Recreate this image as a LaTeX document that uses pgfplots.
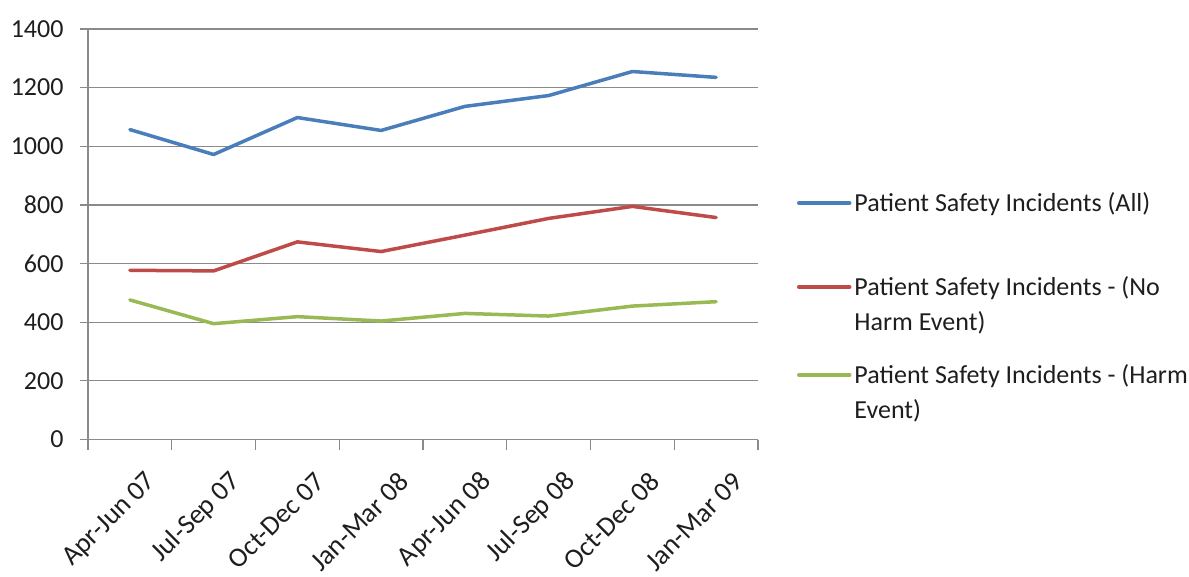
\documentclass[border=0pt]{standalone}
\usepackage{fontspec}
\setmainfont{Carlito}
\usepackage{pgfplots}
\pgfplotsset{compat=1.18}

\definecolor{seriesblue}{HTML}{4A7EBB}
\definecolor{seriesred}{HTML}{BE4B48}
\definecolor{seriesgreen}{HTML}{98B954}
\definecolor{axisgray}{HTML}{8A8A8A}
\definecolor{labeltext}{HTML}{1E1E1E}

\begin{document}
\begin{tikzpicture}[font=\fontsize{26bp}{35bp}\selectfont]
\begin{axis}[
  scale only axis,
  width=670bp, height=410.5bp,
  xmin=0.5, xmax=8.5,
  ymin=0, ymax=1400,
  ytick={0,200,...,1400},
  xtick={1,2,3,4,5,6,7,8},
  xticklabels={Apr-Jun 07,Jul-Sep 07,Oct-Dec 07,Jan-Mar 08,Apr-Jun 08,Jul-Sep 08,Oct-Dec 08,Jan-Mar 09},
  xticklabel style={rotate=45, anchor=east, xshift=-2bp, yshift=-37bp,
    font=\fontsize{27.5bp}{33bp}\selectfont},
  minor xtick={0.5,1.5,...,8.5},
  major x tick style={opacity=0},
  axis x line*=bottom, axis y line*=left,
  axis line style={axisgray, line width=1.2bp},
  ymajorgrids,
  grid style={axisgray, line width=1.2bp},
  tick align=outside,
  major tick length=8bp,
  minor tick length=10bp,
  tick style={axisgray, line width=1.2bp},
  ticklabel style={text=labeltext},
  yticklabel style={xshift=-13bp},
  /pgf/number format/assume math mode=true,
  /pgf/number format/1000 sep={},
  legend image code/.code={\draw[#1] (0bp,9bp) -- (51bp,9bp);},
  legend style={at={(1.0582,0.6139)}, anchor=north west,
    draw=none, fill=none, inner sep=0pt, outer sep=0pt,
    cells={anchor=base west},
    nodes={inner sep=0pt, text depth={}, text=labeltext},
    row sep=18bp,
    /tikz/every odd column/.append style={column sep=3bp}},
  every axis plot/.append style={line width=3.5bp, line join=round, line cap=round},
]
\addplot[seriesblue] coordinates {
  (1,1057) (2,972) (3,1098) (4,1054) (5,1136) (6,1173) (7,1255) (8,1235)};
\addlegendentry{\begin{tabular}[t]{@{}l@{}}Patient Safety Incidents (All)\rule[-41.5bp]{0pt}{0pt}\end{tabular}}

\addplot[seriesred] coordinates {
  (1,577) (2,575) (3,674) (4,641) (5,697) (6,754) (7,795) (8,757)};
\addlegendentry{\begin{tabular}[t]{@{}l@{}}Patient Safety Incidents - (No\\Harm Event)\end{tabular}}

\addplot[seriesgreen] coordinates {
  (1,476) (2,395) (3,419) (4,404) (5,430) (6,421) (7,455) (8,470)};
\addlegendentry{\begin{tabular}[t]{@{}l@{}}Patient Safety Incidents - (Harm\\Event)\end{tabular}}
\end{axis}
\pgfresetboundingbox
\path[use as bounding box] (-88bp,-137bp) rectangle (1101bp,439.5bp);
\end{tikzpicture}
\end{document}
